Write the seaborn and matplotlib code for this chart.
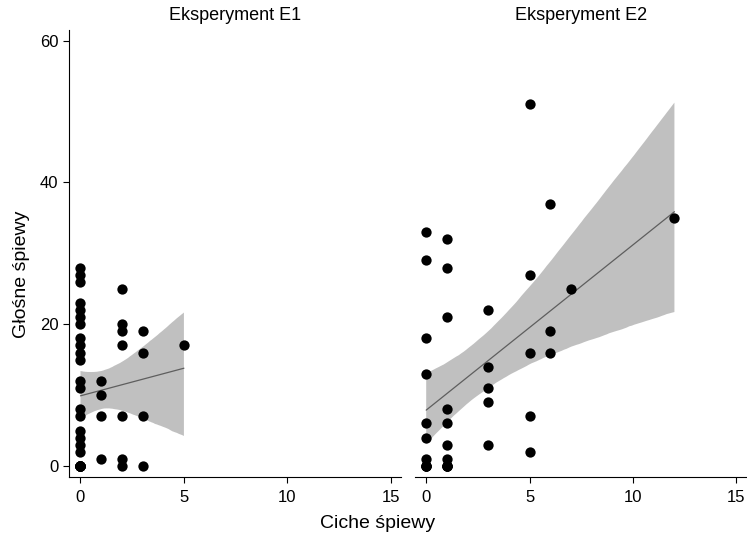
import pandas as pd
import matplotlib.pyplot as plt
import seaborn as sns

# dane (nakładające się punkty uzupełnione szacunkowo)
e1_ciche = [0]*28 + [1]*4 + [2]*7 + [3]*4 + [5]
e1_glosne = [28, 27, 26, 23, 22, 21, 20, 18, 17, 16, 15, 12, 11, 8, 7, 5, 4, 3, 2, 0,
             0, 0, 0, 0, 0, 0, 0, 0,
             12, 10, 7, 1,
             25, 20, 19, 17, 7, 1, 0,
             19, 16, 7, 0,
             17]

e2_ciche = [0]*11 + [1]*11 + [3]*5 + [5]*5 + [6]*3 + [7] + [12]
e2_glosne = [33, 29, 18, 13, 6, 4, 1, 0, 0, 0, 0,
             32, 28, 21, 8, 6, 3, 1, 0, 0, 0, 0,
             22, 14, 11, 9, 3,
             51, 27, 16, 7, 2,
             37, 19, 16,
             25,
             35]

panel_names = ['Eksperyment E1', 'Eksperyment E2']
x_ticks = [0, 5, 10, 15]
y_ticks = [0, 20, 40, 60]

df = pd.concat([
    pd.DataFrame({'ciche': e1_ciche, 'glosne': e1_glosne, 'eksp': panel_names[0]}),
    pd.DataFrame({'ciche': e2_ciche, 'glosne': e2_glosne, 'eksp': panel_names[1]}),
])

sns.set_style('ticks', {'axes.edgecolor': 'black', 'xtick.color': 'black',
                        'ytick.color': 'black', 'text.color': 'black',
                        'axes.labelcolor': 'black'})
plt.rcParams['font.family'] = ['Liberation Sans', 'DejaVu Sans']
plt.rcParams['axes.linewidth'] = 0.8

g = sns.lmplot(
    data=df, x='ciche', y='glosne', col='eksp', col_order=panel_names,
    ci=95, n_boot=10000, seed=3, height=5, aspect=1,
    scatter_kws={'color': 'black', 's': 55, 'alpha': 1, 'zorder': 3, 'linewidths': 0},
    line_kws={'color': '#5e5e5e', 'linewidth': 0.9, 'zorder': 2},
)
fig = g.figure
fig.set_size_inches(7.47, 5.37)
fig.set_dpi(100)

for ax, name in zip(g.axes.flat, panel_names):
    # szare pasmo ufności
    for coll in ax.collections:
        if coll.get_zorder() != 3:
            coll.set_facecolor('#c0c0c0')
            coll.set_alpha(1)
            coll.set_edgecolor('none')
    ax.set_title(name, fontsize=13, pad=7)
    ax.set_xlim(-0.54, 15.48)
    ax.set_ylim(-1.59, 61.5)
    ax.set_xticks(x_ticks)
    ax.set_yticks(y_ticks)
    ax.tick_params(labelsize=12, length=4.3, width=0.8, color='black')
    ax.tick_params(axis='y', pad=3.5)
    ax.tick_params(axis='x', pad=4.5)
    ax.set_xlabel('')
    ax.set_ylabel('')

g.axes.flat[1].spines['left'].set_visible(False)
g.axes.flat[1].tick_params(axis='y', left=False, labelleft=False)

g.axes.flat[0].set_position([0.0928, 0.1112, 0.4436, 0.8329])
g.axes.flat[1].set_position([0.5556, 0.1112, 0.4436, 0.8329])

fig.text(0.029, 0.49, 'Głośne śpiewy', rotation=90, ha='center', va='center', fontsize=14)
fig.text(0.505, 0.025, 'Ciche śpiewy', ha='center', va='center', fontsize=14)

fig.savefig('out.png', dpi=100)
